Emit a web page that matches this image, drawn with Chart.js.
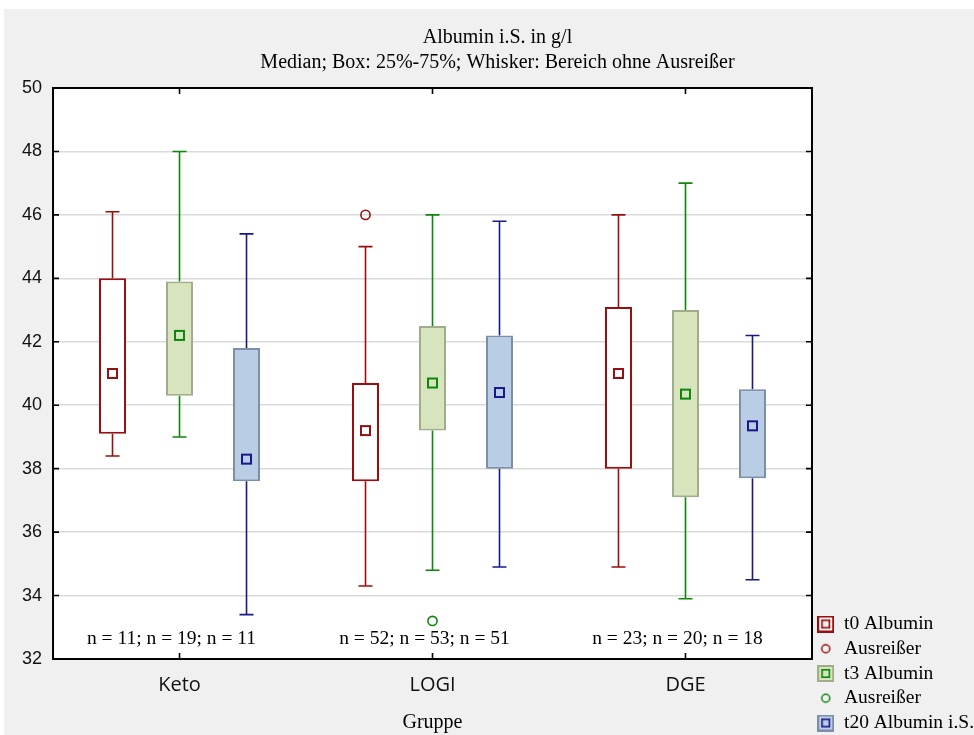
<!DOCTYPE html>
<html><head><meta charset="utf-8">
<script src="https://cdn.jsdelivr.net/npm/chart.js@4.4.1/dist/chart.umd.min.js"></script>
<style>
html,body{margin:0;padding:0;background:#fff;overflow:hidden;width:974px;height:735px;}
#wrap{position:absolute;left:4px;top:9px;width:990px;height:729px;background:#f0f0f0;}
canvas{display:block;}
</style></head><body>
<div id="wrap"><canvas id="c" width="990" height="729"></canvas></div>
<script>
// ---- data ----
const categories = ['Keto', 'LOGI', 'DGE'];
const yTicks = [32, 34, 36, 38, 40, 42, 44, 46, 48, 50];
const nLabels = ['n = 11; n = 19; n = 11', 'n = 52; n = 53; n = 51', 'n = 23; n = 20; n = 18'];

const t0Min    = [38.4, 34.3, 34.9];
const t0Q1     = [39.1, 37.6, 38.0];
const t0Median = [41.0, 39.2, 41.0];
const t0Q3     = [44.0, 40.7, 43.1];
const t0Max    = [46.1, 45.0, 46.0];
const t0Outliers = [[], [46.0], []];

const t3Min    = [39.0, 34.8, 33.9];
const t3Q1     = [40.3, 39.2, 37.1];
const t3Median = [42.2, 40.7, 40.35];
const t3Q3     = [43.9, 42.5, 43.0];
const t3Max    = [48.0, 46.0, 47.0];
const t3Outliers = [[], [33.2], []];

const t20Min    = [33.4, 34.9, 34.5];
const t20Q1     = [37.6, 38.0, 37.7];
const t20Median = [38.3, 40.4, 39.35];
const t20Q3     = [41.8, 42.2, 40.5];
const t20Max    = [45.4, 45.8, 42.2];
const t20Outliers = [[], [], []];

// ---- styles ----
const RED = '#990f0f', GREEN = '#0c870c', NAVY = '#18188a';
const series = [
  {name:'t0 Albumin', min:t0Min, q1:t0Q1, med:t0Median, q3:t0Q3, max:t0Max, out:t0Outliers,
   fill:'#ffffff', border:RED, line:RED, legendFill:'#f6f2f2'},
  {name:'t3 Albumin', min:t3Min, q1:t3Q1, med:t3Median, q3:t3Q3, max:t3Max, out:t3Outliers,
   fill:'#d7e4bd', border:'#a0ad88', line:GREEN, legendFill:'#d7e4bd'},
  {name:'t20 Albumin i.S.', min:t20Min, q1:t20Q1, med:t20Median, q3:t20Q3, max:t20Max, out:t20Outliers,
   fill:'#b9cde5', border:'#7d8ea8', line:NAVY, legendFill:'#b9cde5'}
];

function boxIcon(fill, border, inner){
  const c = document.createElement('canvas'); c.width = 17; c.height = 17;
  const g = c.getContext('2d');
  g.fillStyle = fill; g.fillRect(1,1,15,15);
  g.strokeStyle = border; g.lineWidth = 2; g.strokeRect(1,1,15,15);
  g.strokeStyle = inner; g.lineWidth = 1.6; g.strokeRect(4.8,4.8,7.4,7.4);
  return c;
}
function circleIcon(color){
  const c = document.createElement('canvas'); c.width = 12; c.height = 12;
  const g = c.getContext('2d');
  g.strokeStyle = color; g.lineWidth = 1.5;
  g.beginPath(); g.arc(6,6,4,0,Math.PI*2); g.stroke();
  return c;
}
const legendItems = [
  {text:'t0 Albumin', pointStyle: boxIcon(series[0].legendFill, RED, RED)},
  {text:'Ausreißer', pointStyle: circleIcon(RED)},
  {text:'t3 Albumin', pointStyle: boxIcon(series[1].legendFill, '#a0ad88', GREEN)},
  {text:'Ausreißer', pointStyle: circleIcon(GREEN)},
  {text:'t20 Albumin i.S.', pointStyle: boxIcon(series[2].legendFill, '#7d8ea8', NAVY)}
].map(it => Object.assign({fillStyle:'rgba(0,0,0,0)', strokeStyle:'rgba(0,0,0,0)', lineWidth:0, hidden:false, fontColor:'#000'}, it));

const SERIF = 'Liberation Serif';

const boxPlugin = {
  id: 'boxPlugin',
  beforeDraw(chart){
    const {ctx, chartArea:a} = chart;
    ctx.save(); ctx.fillStyle = '#ffffff';
    ctx.fillRect(a.left, a.top, a.right - a.left, a.bottom - a.top);
    ctx.restore();
  },
  beforeDatasetsDraw(chart){
    const {ctx} = chart; const y = chart.scales.y;
    ctx.save();
    series.forEach((s, di) => {
      const meta = chart.getDatasetMeta(di);
      meta.data.forEach((bar, i) => {
        const x = bar.x;
        const pMin = y.getPixelForValue(s.min[i]), pMax = y.getPixelForValue(s.max[i]);
        const pQ1 = y.getPixelForValue(s.q1[i]), pQ3 = y.getPixelForValue(s.q3[i]);
        ctx.strokeStyle = s.line; ctx.lineWidth = 1.6;
        ctx.beginPath();
        ctx.moveTo(x, pQ3); ctx.lineTo(x, pMax);
        ctx.moveTo(x - 7, pMax); ctx.lineTo(x + 7, pMax);
        ctx.moveTo(x, pQ1); ctx.lineTo(x, pMin);
        ctx.moveTo(x - 7, pMin); ctx.lineTo(x + 7, pMin);
        ctx.stroke();
      });
    });
    ctx.restore();
  },
  afterDatasetsDraw(chart){
    const {ctx, chartArea:a} = chart; const y = chart.scales.y, xs = chart.scales.x;
    ctx.save();
    series.forEach((s, di) => {
      const meta = chart.getDatasetMeta(di);
      meta.data.forEach((bar, i) => {
        const x = bar.x;
        const pm = y.getPixelForValue(s.med[i]);
        ctx.strokeStyle = s.line; ctx.lineWidth = 2;
        ctx.strokeRect(x - 4.5, pm - 4.5, 9, 9);
        s.out[i].forEach(v => {
          const po = y.getPixelForValue(v);
          ctx.lineWidth = 1.6;
          ctx.beginPath(); ctx.arc(x, po, 4.6, 0, Math.PI*2); ctx.stroke();
        });
      });
    });
    // n labels
    ctx.fillStyle = '#000'; ctx.font = '19.5px "' + SERIF + '"';
    ctx.textAlign = 'center'; ctx.textBaseline = 'middle';
    categories.forEach((c, i) => {
      ctx.fillText(nLabels[i], xs.getPixelForValue(i) - 8, a.bottom - 20);
    });
    // frame
    ctx.strokeStyle = '#000'; ctx.lineWidth = 2;
    ctx.strokeRect(a.left, a.top, a.right - a.left, a.bottom - a.top);
    // inner tick marks
    ctx.lineWidth = 1.6;
    ctx.beginPath();
    yTicks.forEach(v => {
      const p = y.getPixelForValue(v);
      ctx.moveTo(a.left, p); ctx.lineTo(a.left + 6, p);
      ctx.moveTo(a.right, p); ctx.lineTo(a.right - 6, p);
    });
    categories.forEach((c, i) => {
      const p = xs.getPixelForValue(i);
      ctx.moveTo(p, a.bottom); ctx.lineTo(p, a.bottom - 6);
      ctx.moveTo(p, a.top); ctx.lineTo(p, a.top + 6);
    });
    ctx.stroke();
    ctx.restore();
  }
};

new Chart(document.getElementById('c'), {
  type: 'bar',
  data: {
    labels: categories,
    datasets: series.map(s => ({
      label: s.name,
      data: s.q1.map((v, i) => [v, s.q3[i]]),
      backgroundColor: s.fill,
      borderColor: s.border,
      borderWidth: 2,
      borderSkipped: false,
      categoryPercentage: 0.7945,
      barPercentage: 0.403
    }))
  },
  options: {
    responsive: false,
    animation: false,
    layout: {padding: {left: 7, right: 10, top: 0, bottom: 0}},
    scales: {
      x: {
        grid: {display: false, drawTicks: false},
        border: {display: false},
        ticks: {color: '#111', font: {family: 'Open Sans', size: 20}, padding: 14},
        title: {display: true, text: 'Gruppe', color: '#000', font: {family: SERIF, size: 20}, padding: {top: 0, bottom: 3}}
      },
      y: {
        min: 32, max: 50,
        afterBuildTicks: sc => { sc.ticks = yTicks.map(v => ({value: v})); },
        grid: {color: '#dadada', lineWidth: 1.5, drawTicks: false},
        border: {display: false},
        ticks: {color: '#111', font: {family: 'Liberation Sans', size: 18}, padding: 11}
      }
    },
    plugins: {
      tooltip: {enabled: false},
      title: {display: true, text: 'Albumin i.S. in g/l', color: '#000',
        font: {family: SERIF, size: 20, weight: 'normal'}, padding: {top: 17, bottom: 0}},
      subtitle: {display: true, text: 'Median; Box: 25%-75%; Whisker: Bereich ohne Ausreißer', color: '#000',
        font: {family: SERIF, size: 20, weight: 'normal'}, padding: {top: 1, bottom: 13}},
      legend: {
        position: 'right', align: 'end',
        onClick: () => {},
        labels: {
          usePointStyle: true, boxWidth: 17, boxHeight: 17, padding: 5.25,
          color: '#000', font: {family: SERIF, size: 19.5},
          generateLabels: () => legendItems
        }
      }
    }
  },
  plugins: [boxPlugin]
});
</script>
</body></html>
